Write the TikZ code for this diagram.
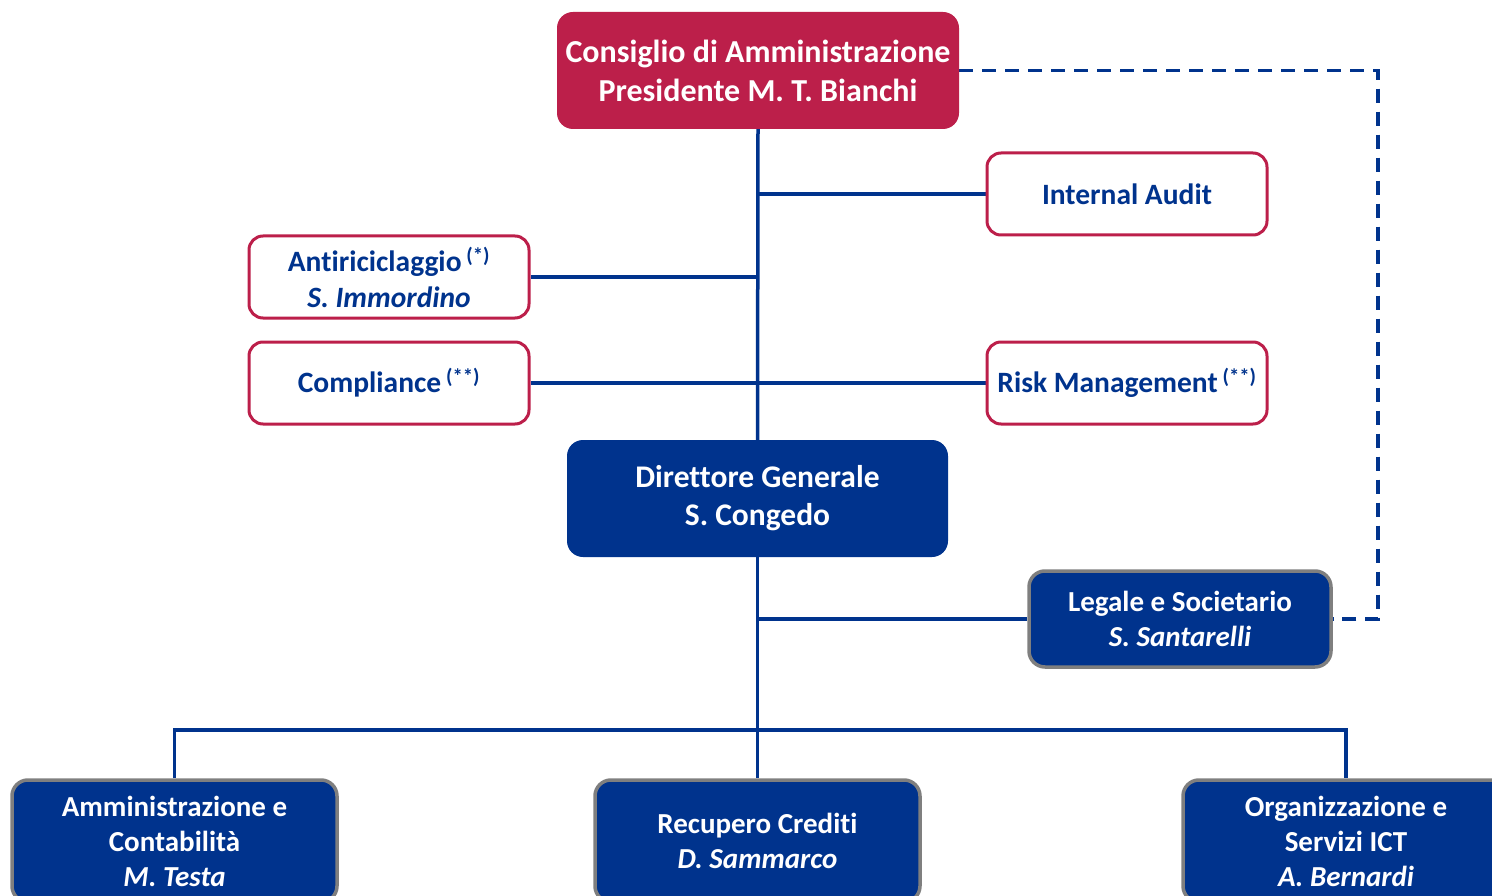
\documentclass[tikz,border=0pt]{standalone}
\usepackage{fontspec}
\setmainfont{Carlito}[Ligatures=NoCommon]
\usetikzlibrary{backgrounds}
\definecolor{crimson}{HTML}{BC1F4A}
\definecolor{navy}{HTML}{00338D}
\definecolor{frame}{HTML}{7F7F7F}
\begin{document}
\begin{tikzpicture}[x=1pt,y=-1pt,
  redfill/.style={fill=crimson,rounded corners=16pt,text=white,font=\fontsize{32}{39}\selectfont\bfseries,align=center,inner sep=0pt},
  redline/.style={draw=crimson,line width=3pt,fill=white,rounded corners=14pt,text=navy,font=\fontsize{29.5}{36}\selectfont\bfseries,align=center,inner sep=0pt,minimum width=280pt,minimum height=82pt},
  bluefill/.style={fill=navy,rounded corners=16pt,text=white,font=\fontsize{31.5}{38}\selectfont\bfseries,align=center,inner sep=0pt},
  bluebox/.style={fill=navy,draw=frame,line width=3.5pt,rounded corners=16pt,text=white,font=\fontsize{29}{35}\selectfont\bfseries,align=center,inner sep=0pt},
  conn/.style={draw=navy,line width=3.5pt},
  dashconn/.style={draw=navy,line width=3.5pt,dash pattern=on 14pt off 9pt}]
\useasboundingbox (0,0) rectangle (1492,896);
\clip (0,0) rectangle (1492,896);
% nodes
\node[redfill,minimum width=402pt,minimum height=117pt] (cda) at (758,70.5) {Consiglio di Amministrazione\\Presidente M. T. Bianchi};
\node[redline] (ia) at (1127,194) {Internal Audit};
\node[redline] (ar) at (389,277) {Antiriciclaggio\,\textsuperscript{(*)}\\\textit{S. Immordino}};
\node[redline] (co) at (389,383) {Compliance\,\textsuperscript{(**)}};
\node[redline] (rm) at (1127,383) {Risk Management\,\textsuperscript{(**)}};
\node[bluefill,minimum width=381pt,minimum height=117pt] (dg) at (757.5,498.5) {Direttore Generale\\S. Congedo};
\node[bluebox,minimum width=302pt,minimum height=96pt] (ls) at (1180,619) {Legale e Societario\\\textit{S. Santarelli}};
\node[bluebox,minimum width=325pt,minimum height=122pt] (ac) at (174.5,841) {Amministrazione e\\Contabilità\\\textit{M. Testa}};
\node[bluebox,minimum width=325pt,minimum height=122pt] (rc) at (757.5,841) {Recupero Crediti\\\textit{D. Sammarco}};
\node[bluebox,minimum width=326pt,minimum height=122pt] (os) at (1346,841) {Organizzazione e\\Servizi ICT\\\textit{A. Bernardi}};
% connectors
\coordinate (tia) at (758,194);
\coordinate (tar) at (758,277);
\coordinate (tls) at (758,619);
\coordinate (bus) at (758,730);
\coordinate (dc) at (1378,70.5);
\begin{scope}[on background layer]
\draw[conn] (cda.south) -- (dg.north);
\draw[conn] (tia) -- (ia.west);
\draw[conn] (tar) -- (ar.east);
\draw[conn] (co.east) -- (rm.west);
\draw[conn] (dg.south) -- (rc.north);
\draw[conn] (tls) -- (ls.west);
\draw[conn] (ac.north) |- (bus) -| (os.north);
\draw[dashconn] (cda.east) -- (dc) |- (ls.east);
\end{scope}
\end{tikzpicture}
\end{document}
